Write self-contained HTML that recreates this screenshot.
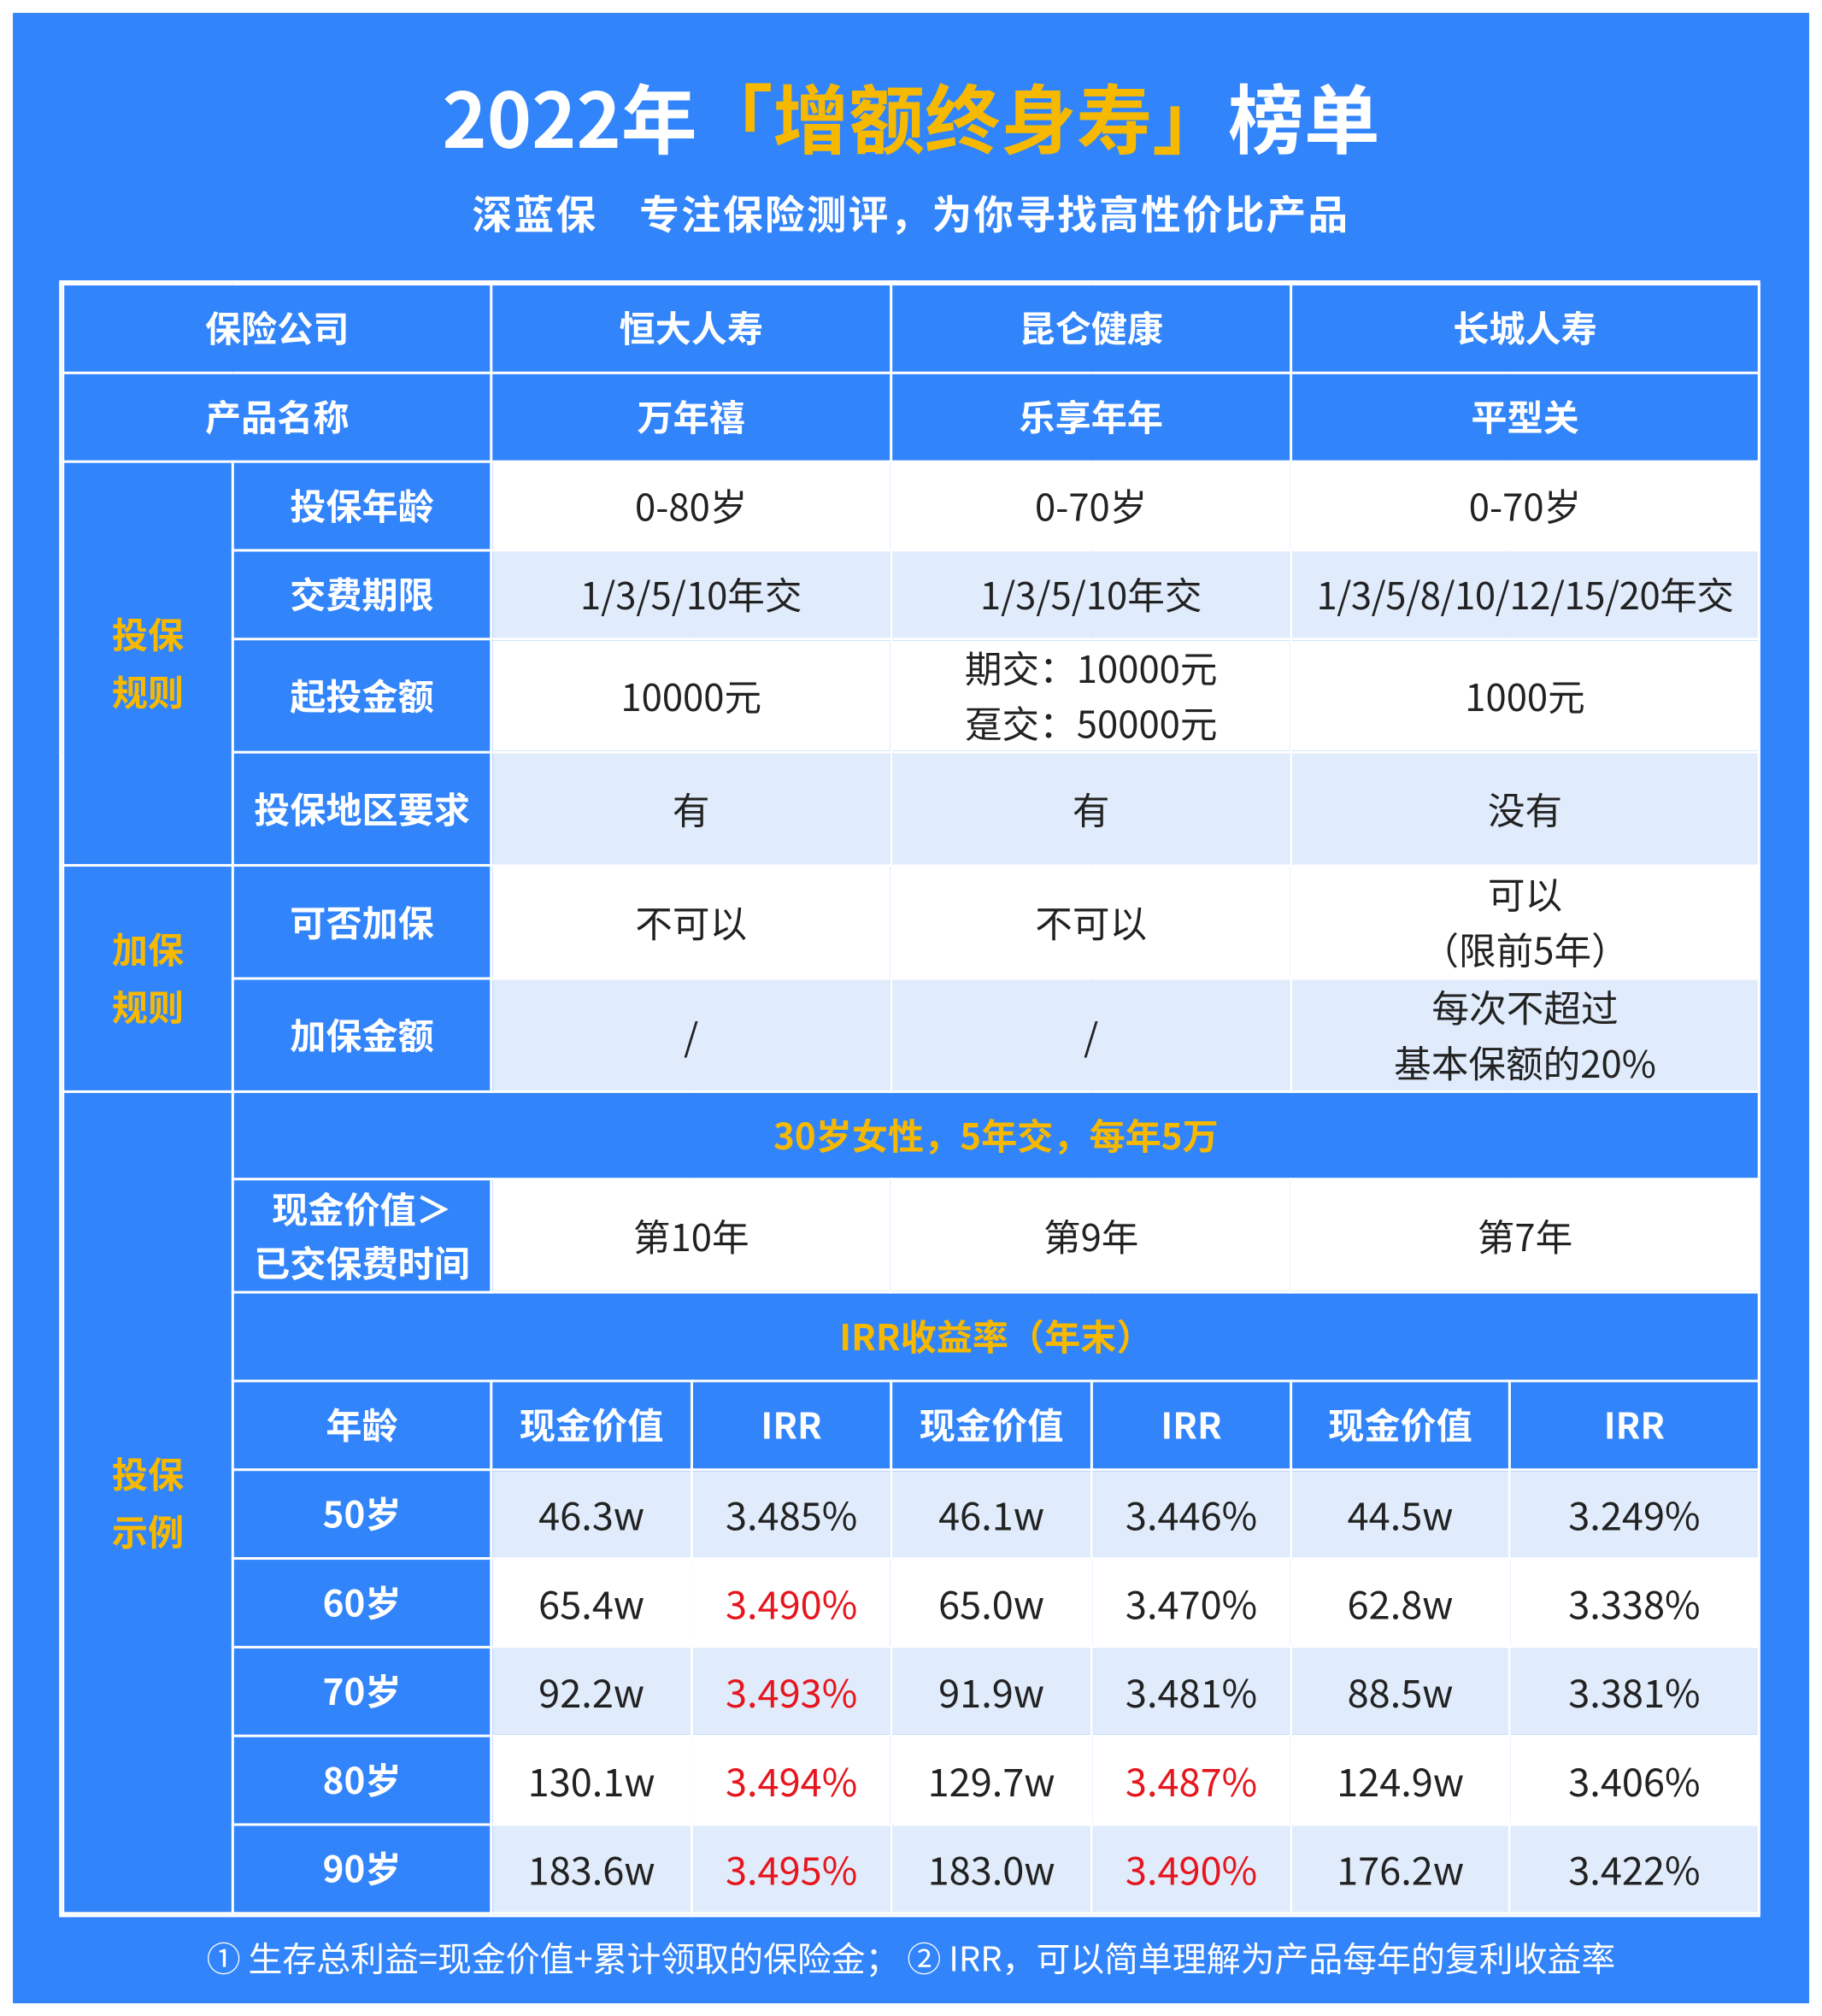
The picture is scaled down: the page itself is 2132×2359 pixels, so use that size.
<!DOCTYPE html>
<html><head><meta charset="utf-8">
<style>
html,body{margin:0;padding:0;background:#fff;}
body{width:2132px;height:2359px;overflow:hidden;position:relative;}
#s{position:absolute;left:0;top:0;width:1417px;height:1568px;transform:scale(1.50459);transform-origin:0 0;font-family:"Noto Sans CJK SC","Liberation Sans",sans-serif;}
#bg{position:absolute;left:10px;top:10px;width:1397px;height:1548px;background:#3284fb;}
#title{position:absolute;left:0;width:1417px;top:48px;text-align:center;font-size:59px;font-weight:bold;color:#fff;line-height:84px;}
#title span{color:#f7b900;}
#sub{position:absolute;left:0;width:1417px;top:143px;text-align:center;font-size:31px;font-weight:bold;color:#fff;line-height:44px;letter-spacing:1.5px;}
#tw{position:absolute;left:46px;top:218px;width:1319px;border:2px solid #fff;}
table{border-collapse:collapse;table-layout:fixed;width:1319px;}
td{border:2px solid #fff;text-align:center;vertical-align:middle;padding:0;font-size:29px;color:#222;line-height:43px;overflow:hidden;}
td.h{background:#3284fb;color:#fff;font-weight:bold;font-size:28px;}
td.y{background:#3284fb;color:#f7b900;font-weight:bold;font-size:28px;}
td.w{background:#fff;}
td.l{background:#e0ebfb;}
.n td.w,.n td.l{font-size:30px;}
.r{color:#e6161e;}
#foot{position:absolute;left:0;width:1417px;top:1503px;text-align:center;font-size:26.5px;color:#fff;line-height:38px;}
</style></head><body>
<div id="s">
<div id="bg"></div>
<div id="title">2022年<span>「增额终身寿」</span>榜单</div>
<div id="sub">深蓝保　专注保险测评，为你寻找高性价比产品</div>
<div id="tw">
<table>
<colgroup><col style="width:132px"><col style="width:201px"><col style="width:156px"><col style="width:155px"><col style="width:156px"><col style="width:155px"><col style="width:170px"><col style="width:194px"></colgroup>
<tr style="height:69px"><td class="h" colspan="2">保险公司</td><td class="h" colspan="2">恒大人寿</td><td class="h" colspan="2">昆仑健康</td><td class="h" colspan="2">长城人寿</td></tr>
<tr style="height:69px"><td class="h" colspan="2">产品名称</td><td class="h" colspan="2">万年禧</td><td class="h" colspan="2">乐享年年</td><td class="h" colspan="2">平型关</td></tr>
<tr style="height:69px"><td class="y" rowspan="4" style="line-height:45px">投保<br>规则</td><td class="h">投保年龄</td><td class="w" colspan="2">0-80岁</td><td class="w" colspan="2">0-70岁</td><td class="w" colspan="2">0-70岁</td></tr>
<tr style="height:69px"><td class="h">交费期限</td><td class="l" colspan="2">1/3/5/10年交</td><td class="l" colspan="2">1/3/5/10年交</td><td class="l" colspan="2" style="letter-spacing:-0.3px">1/3/5/8/10/12/15/20年交</td></tr>
<tr style="height:88px"><td class="h">起投金额</td><td class="w" colspan="2">10000元</td><td class="w" colspan="2">期交：10000元<br>趸交：50000元</td><td class="w" colspan="2">1000元</td></tr>
<tr style="height:88px"><td class="h">投保地区要求</td><td class="l" colspan="2">有</td><td class="l" colspan="2">有</td><td class="l" colspan="2">没有</td></tr>
<tr style="height:88px"><td class="y" rowspan="2" style="line-height:45px">加保<br>规则</td><td class="h">可否加保</td><td class="w" colspan="2">不可以</td><td class="w" colspan="2">不可以</td><td class="w" colspan="2">可以<br>（限前5年）</td></tr>
<tr style="height:88px"><td class="h">加保金额</td><td class="l" colspan="2">/</td><td class="l" colspan="2">/</td><td class="l" colspan="2">每次不超过<br>基本保额的20%</td></tr>
<tr style="height:68px"><td class="y" rowspan="9" style="line-height:45px">投保<br>示例</td><td class="y" colspan="7">30岁女性，5年交，每年5万</td></tr>
<tr style="height:88px"><td class="h" style="line-height:42px">现金价值＞<br>已交保费时间</td><td class="w" colspan="2">第10年</td><td class="w" colspan="2">第9年</td><td class="w" colspan="2">第7年</td></tr>
<tr style="height:69px"><td class="y" colspan="7">IRR收益率（年末）</td></tr>
<tr style="height:69px"><td class="h">年龄</td><td class="h">现金价值</td><td class="h">IRR</td><td class="h">现金价值</td><td class="h">IRR</td><td class="h">现金价值</td><td class="h">IRR</td></tr>
<tr class="n" style="height:69px"><td class="h">50岁</td><td class="l">46.3w</td><td class="l">3.485%</td><td class="l">46.1w</td><td class="l">3.446%</td><td class="l">44.5w</td><td class="l">3.249%</td></tr>
<tr class="n" style="height:69px"><td class="h">60岁</td><td class="w">65.4w</td><td class="w r">3.490%</td><td class="w">65.0w</td><td class="w">3.470%</td><td class="w">62.8w</td><td class="w">3.338%</td></tr>
<tr class="n" style="height:69px"><td class="h">70岁</td><td class="l">92.2w</td><td class="l r">3.493%</td><td class="l">91.9w</td><td class="l">3.481%</td><td class="l">88.5w</td><td class="l">3.381%</td></tr>
<tr class="n" style="height:69px"><td class="h">80岁</td><td class="w">130.1w</td><td class="w r">3.494%</td><td class="w">129.7w</td><td class="w r">3.487%</td><td class="w">124.9w</td><td class="w">3.406%</td></tr>
<tr class="n" style="height:69px"><td class="h">90岁</td><td class="l">183.6w</td><td class="l r">3.495%</td><td class="l">183.0w</td><td class="l r">3.490%</td><td class="l">176.2w</td><td class="l">3.422%</td></tr>
</table>
</div>
<div id="foot">① 生存总利益=现金价值+累计领取的保险金；  ② IRR，可以简单理解为产品每年的复利收益率</div>
</div>
</body></html>
